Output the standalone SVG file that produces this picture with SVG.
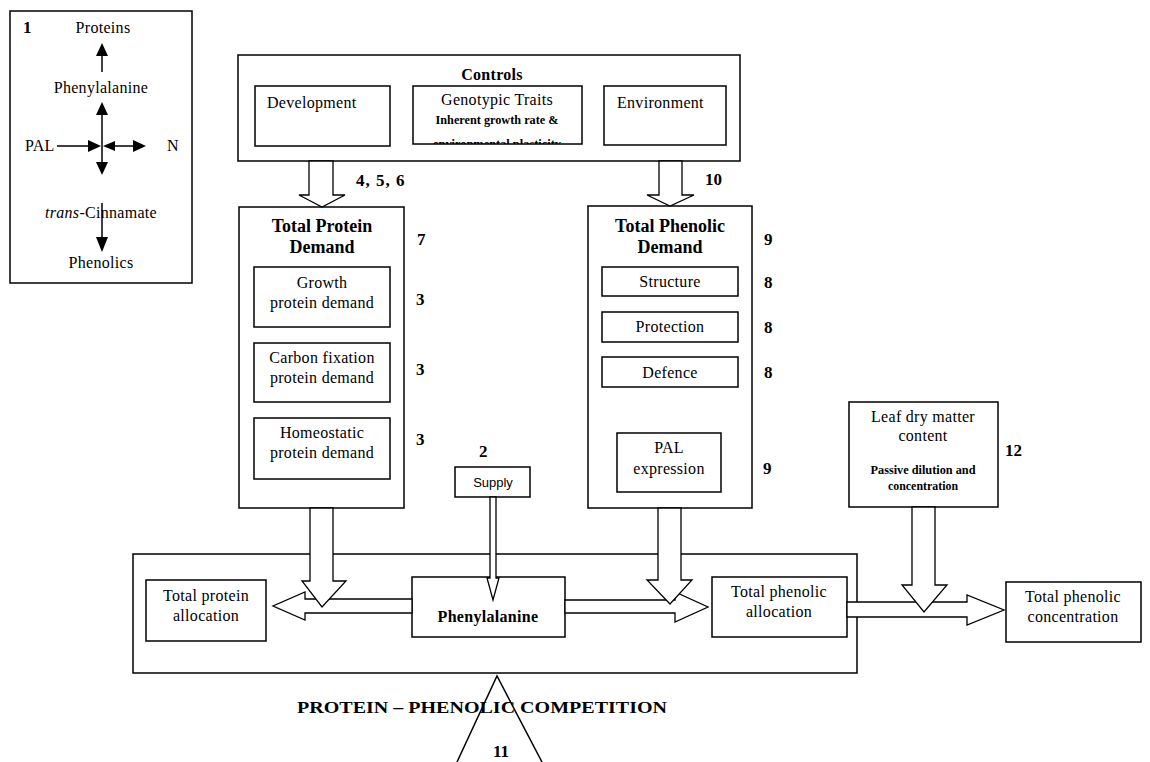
<svg xmlns="http://www.w3.org/2000/svg" width="1150" height="762" viewBox="0 0 1150 762">
<style>
.box{fill:#fff;stroke:#000;stroke-width:1.5}
.t{font-family:"Liberation Serif","Times New Roman",serif;font-size:16px;fill:#000;letter-spacing:0.3px}
.c{text-anchor:middle}
.b{font-weight:bold}
.h{font-family:"Liberation Serif","Times New Roman",serif;font-size:18px;font-weight:bold;fill:#000;text-anchor:middle}
.n{font-family:"Liberation Serif","Times New Roman",serif;font-size:17px;font-weight:bold;fill:#000}
.s{font-family:"Liberation Serif","Times New Roman",serif;font-size:11.5px;font-weight:bold;fill:#000;text-anchor:middle}
.arr{fill:#fff;stroke:#000;stroke-width:1.3;stroke-linejoin:miter}
.ln{stroke:#000;stroke-width:1.5;fill:none}
.hd{fill:#000}
</style>
<defs>
<clipPath id="gclip"><rect x="413" y="86" width="169" height="58"/></clipPath>
</defs>
<rect width="1150" height="762" fill="#fff"/>

<g id="legend">
<rect class="box" x="10" y="11" width="182" height="272"/>
<text class="n" x="23" y="33">1</text>
<text class="t c" x="103" y="33">Proteins</text>
<text class="t c" x="101" y="93">Phenylalanine</text>
<text class="t" x="25" y="151">PAL</text>
<text class="t" x="167" y="151">N</text>
<text class="t c" x="101" y="218"><tspan font-style="italic">trans</tspan>-Cinnamate</text>
<text class="t c" x="101" y="268">Phenolics</text>
<line class="ln" x1="102" y1="72" x2="102" y2="55"/>
<polygon class="hd" points="96,56 102,43 108,56"/>
<line class="ln" x1="102" y1="114" x2="102" y2="163"/>
<polygon class="hd" points="96,115 102,102 108,115"/>
<polygon class="hd" points="96,162 102,175 108,162"/>
<line class="ln" x1="57" y1="146" x2="89" y2="146"/>
<polygon class="hd" points="88,140 101,146 88,152"/>
<polygon class="hd" points="115,141 103,146 115,151"/>
<line class="ln" x1="114" y1="146" x2="134" y2="146"/>
<polygon class="hd" points="133,140 146,146 133,152"/>
<line class="ln" x1="102" y1="203" x2="102" y2="238"/>
<polygon class="hd" points="96,237 102,252 108,237"/>
</g>

<g id="controls">
<rect class="box" x="238" y="55" width="502" height="106"/>
<text class="t c b" x="492" y="80" font-size="17">Controls</text>
</g>
<g id="development">
<rect class="box" x="255" y="86" width="135" height="60"/>
<text class="t" x="267" y="108">Development</text>
</g>
<g id="genotypic-traits">
<rect class="box" x="413" y="86" width="169" height="58"/>
<text class="t c" x="497" y="105">Genotypic Traits</text>
<text class="s" x="497" y="124" textLength="123" lengthAdjust="spacingAndGlyphs">Inherent growth rate &amp;</text>
<text class="s" x="497" y="148" textLength="128" lengthAdjust="spacingAndGlyphs" clip-path="url(#gclip)">environmental plasticity</text>
</g>
<g id="environment">
<rect class="box" x="604" y="86" width="122" height="59"/>
<text class="t" x="617" y="108">Environment</text>
</g>

<g id="total-protein-demand">
<rect class="box" x="239" y="207" width="165" height="301"/>
<text class="h" x="322" y="232">Total Protein</text>
<text class="h" x="322" y="253">Demand</text>
<text class="n" x="417" y="245">7</text>
</g>
<g id="growth-protein-demand">
<rect class="box" x="254" y="267" width="136" height="60"/>
<text class="t c" x="322" y="288">Growth</text>
<text class="t c" x="322" y="308">protein demand</text>
<text class="n" x="416" y="305">3</text>
</g>
<g id="carbon-fixation-protein-demand">
<rect class="box" x="254" y="343" width="136" height="59"/>
<text class="t c" x="322" y="363">Carbon fixation</text>
<text class="t c" x="322" y="383">protein demand</text>
<text class="n" x="416" y="375">3</text>
</g>
<g id="homeostatic-protein-demand">
<rect class="box" x="254" y="418" width="136" height="61"/>
<text class="t c" x="322" y="438">Homeostatic</text>
<text class="t c" x="322" y="458">protein demand</text>
<text class="n" x="416" y="445">3</text>
</g>

<g id="total-phenolic-demand">
<rect class="box" x="588" y="206" width="164" height="302"/>
<text class="h" x="670" y="232">Total Phenolic</text>
<text class="h" x="670" y="253">Demand</text>
<text class="n" x="764" y="245">9</text>
</g>
<g id="structure">
<rect class="box" x="602" y="267" width="136" height="29"/>
<text class="t c" x="670" y="287">Structure</text>
<text class="n" x="764" y="288">8</text>
</g>
<g id="protection">
<rect class="box" x="602" y="312" width="136" height="30"/>
<text class="t c" x="670" y="332">Protection</text>
<text class="n" x="764" y="333">8</text>
</g>
<g id="defence">
<rect class="box" x="602" y="357" width="136" height="30"/>
<text class="t c" x="670" y="378">Defence</text>
<text class="n" x="764" y="378">8</text>
</g>
<g id="pal-expression">
<rect class="box" x="617" y="433" width="104" height="59"/>
<text class="t c" x="669" y="453">PAL</text>
<text class="t c" x="669" y="474">expression</text>
<text class="n" x="763" y="474">9</text>
</g>

<g id="supply">
<rect class="box" x="455" y="467" width="75" height="30"/>
<text x="493" y="487" font-family="Liberation Sans, Arial, sans-serif" font-size="13" text-anchor="middle">Supply</text>
<text class="n" x="479" y="457">2</text>
</g>

<g id="leaf-dry-matter-content">
<rect class="box" x="849" y="402" width="149" height="105"/>
<text class="t c" x="923" y="422">Leaf dry matter</text>
<text class="t c" x="923" y="441">content</text>
<text class="s" x="923" y="474" textLength="105" lengthAdjust="spacingAndGlyphs">Passive dilution and</text>
<text class="s" x="923" y="490" textLength="70" lengthAdjust="spacingAndGlyphs">concentration</text>
<text class="n" x="1005" y="456">12</text>
</g>

<g id="protein-phenolic-competition">
<rect class="box" x="133" y="554" width="724" height="119"/>
<text class="n" x="297" y="713" font-size="18" textLength="370" lengthAdjust="spacingAndGlyphs">PROTEIN – PHENOLIC COMPETITION</text>
<polyline class="ln" points="457,762 497,676 542,762" stroke-width="1.2"/>
<text class="n" x="493" y="757">11</text>
</g>

<g id="total-protein-allocation">
<rect class="box" x="146" y="580" width="120" height="61"/>
<text class="t c" x="206" y="601">Total protein</text>
<text class="t c" x="206" y="621">allocation</text>
</g>
<g id="phenylalanine">
<rect class="box" x="412" y="577" width="153" height="60"/>
<text class="t c b" x="488" y="622" font-size="17">Phenylalanine</text>
</g>
<g id="total-phenolic-allocation">
<rect class="box" x="712" y="577" width="135" height="60"/>
<text class="t c" x="779" y="597">Total phenolic</text>
<text class="t c" x="779" y="617">allocation</text>
</g>
<g id="total-phenolic-concentration">
<rect class="box" x="1006" y="582" width="135" height="60"/>
<text class="t c" x="1073" y="602">Total phenolic</text>
<text class="t c" x="1073" y="622">concentration</text>
</g>

<g id="connectors">
<polygon class="arr" points="309,161 309,195 299,195 322,207 345,195 333,195 333,161"/>
<text class="n" x="356" y="186" letter-spacing="1">4, 5, 6</text>
<polygon class="arr" points="659,161 659,195 647,195 670,206 694,195 682,195 682,161"/>
<text class="n" x="705" y="185">10</text>
<polygon class="arr" points="412,599 305,599 305,592 273,606 305,620 305,613 412,613"/>
<polygon class="arr" points="310,508 310,581 302,581 322,607 346,581 333,581 333,508"/>
<polygon class="arr" points="565,600 675,600 675,592 708,607 675,622 675,613 565,613"/>
<polygon class="arr" points="658,508 658,580 647,580 670,604 692,580 681,580 681,508"/>
<polygon class="arr" points="490,497 490,578 487,578 493,600 499,578 496,578 496,497"/>
<polygon class="arr" points="847,602 967,602 967,595 1004,610 967,625 967,617 847,617"/>
<polygon class="arr" points="912,507 912,585 902,585 924,612 947,585 935,585 935,507"/>
</g>
</svg>
